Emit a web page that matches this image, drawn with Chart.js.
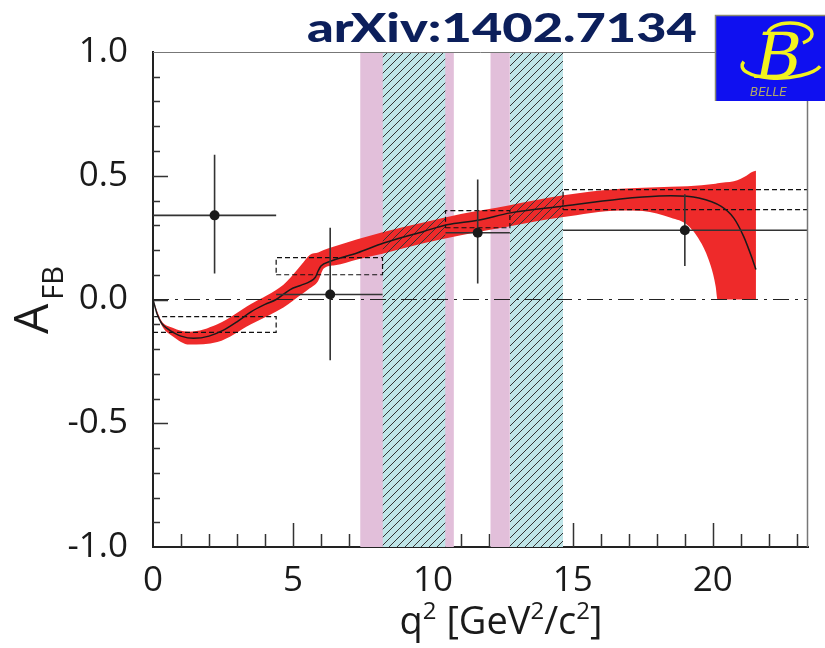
<!DOCTYPE html>
<html><head><meta charset="utf-8">
<script src="https://cdn.jsdelivr.net/npm/chart.js@4.4.1/dist/chart.umd.min.js"></script>
<style>html,body{margin:0;padding:0;background:#fff}#wrap{width:825px;height:648px;position:relative}</style>
</head><body><div id="wrap"><canvas id="c" width="825" height="648"></canvas></div>
<script>
// ---------- data ----------
const xTicks = [0, 5, 10, 15, 20];
const yTicks = [-1, -0.5, 0, 0.5, 1];
const yTickLabels = ['-1.0', '-0.5', '0.0', '0.5', '1.0'];
const xRange = [0, 23.4];
const yRange = [-1, 1];

// veto regions (q^2)
const vetoPink = [[7.4, 10.75], [12.05, 12.75]];
const vetoHatch = [[8.2, 10.45], [12.75, 14.65]];

// measured bins
const binLo = [0, 4.4, 10.45, 14.65];
const binHi = [4.4, 8.2, 12.75, 23.4];
const binCenter = [2.2, 6.33, 11.6, 19.0];
const afbMeas = [0.34, 0.02, 0.27, 0.28];
const errUp = [0.245, 0.27, 0.215, 0.145];
const errDn = [0.235, 0.265, 0.205, 0.145];

// SM bin predictions (dashed boxes)
const smBinLow = [-0.133, 0.10, 0.29, 0.363];
const smBinHigh = [-0.069, 0.169, 0.359, 0.444];

// SM central curve
const curveQ2 = [0, 0.15, 0.3, 0.5, 0.75, 1.0, 1.45, 2.0, 2.5, 3.0, 3.5, 4.0, 4.4, 4.9, 5.3, 5.6, 5.8, 5.9, 6.0, 6.33, 7.29, 8.24, 9.67, 10.5, 11.6, 12.77, 14.56, 16.7, 17.5, 18.5, 19.5, 20.3, 20.75, 21.1, 21.42, 21.54];
const curveAfb = [0, -0.06, -0.095, -0.117, -0.135, -0.148, -0.157, -0.148, -0.125, -0.09, -0.05, -0.02, 0.0, 0.04, 0.058, 0.072, 0.09, 0.115, 0.135, 0.154, 0.188, 0.228, 0.275, 0.302, 0.32, 0.35, 0.376, 0.406, 0.414, 0.419, 0.41, 0.376, 0.329, 0.255, 0.161, 0.121];

// SM uncertainty band
const bandQ2 = [0, 0.3, 0.7, 1.3, 2.3, 3.5, 4.66, 5.0, 5.3, 5.6, 5.9, 6.1, 6.5, 7.3, 8.2, 9.7, 11.0, 12.7, 14.6, 16.7, 17.5, 18.5, 19.1, 19.6, 19.93, 20.1, 20.17, 20.75, 21.0, 21.2, 21.4, 21.54];
const bandLow = [0, -0.102, -0.148, -0.182, -0.172, -0.100, -0.032, -0.005, 0.02, 0.045, 0.075, 0.125, 0.138, 0.162, 0.185, 0.228, 0.26, 0.295, 0.332, 0.36, 0.358, 0.33, 0.30, 0.225, 0.134, 0.054, 0, 0, 0, 0, 0, 0];
const bandHigh = [0, -0.086, -0.114, -0.130, -0.100, -0.018, 0.06, 0.10, 0.14, 0.18, 0.19, 0.20, 0.215, 0.243, 0.272, 0.312, 0.345, 0.38, 0.42, 0.447, 0.452, 0.456, 0.458, 0.462, 0.466, 0.468, 0.47, 0.478, 0.488, 0.50, 0.515, 0.52];

// ---------- helpers ----------
const FONT = '"Open Sans", "Liberation Sans", sans-serif';
const pts = (xs, ys) => xs.map((x, i) => ({x, y: ys[i]}));
const topEdge = (a, b) => [{x: a, y: yRange[1]}, {x: b, y: yRange[1]}];

function hatchPattern() {
  const c = document.createElement('canvas'); c.width = 8; c.height = 8;
  const g = c.getContext('2d');
  g.strokeStyle = '#333'; g.lineWidth = 1;
  g.beginPath();
  g.moveTo(0, 8); g.lineTo(8, 0);
  g.moveTo(-4, 4); g.lineTo(4, -4);
  g.moveTo(4, 12); g.lineTo(12, 4);
  g.stroke();
  return g.createPattern(c, 'repeat');
}

const errPts = [];
binCenter.forEach((c, i) => {
  errPts.push({x: binLo[i], y: afbMeas[i]}, {x: binHi[i], y: afbMeas[i]}, {x: binHi[i], y: null});
  errPts.push({x: c, y: afbMeas[i] - errDn[i]}, {x: c, y: afbMeas[i] + errUp[i]}, {x: c, y: null});
});
const boxPts = [];
binLo.forEach((lo, i) => {
  const hi = binHi[i];
  boxPts.push({x: lo, y: smBinLow[i]}, {x: hi, y: smBinLow[i]}, {x: hi, y: smBinHigh[i]},
              {x: lo, y: smBinHigh[i]}, {x: lo, y: smBinLow[i]}, {x: lo, y: null});
});

const base = {pointRadius: 0, borderWidth: 0, tension: 0, fill: false, showLine: true};
const datasets = [];
vetoPink.forEach(([a, b]) => datasets.push({...base, data: topEdge(a, b), fill: 'start',
  backgroundColor: '#e2bfda', borderColor: 'rgba(0,0,0,0)', order: 100}));
vetoHatch.forEach(([a, b]) => datasets.push({...base, data: topEdge(a, b), fill: 'start',
  backgroundColor: '#bfe5e8', borderColor: 'rgba(0,0,0,0)', order: 95}));
datasets.push({...base, data: pts(bandQ2, bandLow), borderColor: 'rgba(0,0,0,0)',
  cubicInterpolationMode: 'monotone', tension: 0.4, order: 90});
datasets.push({...base, data: pts(bandQ2, bandHigh), borderColor: 'rgba(0,0,0,0)', fill: '-1',
  backgroundColor: '#ee2a2a', cubicInterpolationMode: 'monotone', tension: 0.4, order: 89});
const hp = hatchPattern();
vetoHatch.forEach(([a, b]) => datasets.push({...base, data: topEdge(a, b), fill: 'start',
  backgroundColor: hp, borderColor: 'rgba(0,0,0,0)', order: 80}));
datasets.push({...base, data: [{x: xRange[0], y: 0}, {x: xRange[1], y: 0}], borderColor: '#222',
  borderWidth: 1.2, borderDash: [16, 6, 3, 6], order: 70});
datasets.push({...base, data: boxPts, borderColor: '#111', borderWidth: 1.2, borderDash: [5, 3],
  spanGaps: false, order: 60});
datasets.push({...base, data: pts(curveQ2, curveAfb), borderColor: '#1a1a1a', borderWidth: 1.5,
  cubicInterpolationMode: 'monotone', tension: 0.4, order: 50});
datasets.push({...base, data: errPts, borderColor: '#333', borderWidth: 1.6, spanGaps: false, order: 40});
datasets.push({...base, showLine: false, data: pts(binCenter, afbMeas), pointRadius: 5,
  pointBackgroundColor: '#1a1a1a', pointBorderColor: '#1a1a1a', pointBorderWidth: 0, order: 30});

const extras = {
  id: 'extras',
  beforeDatasetsDraw(chart) {
    const {ctx, chartArea: ca, scales: {x, y}} = chart;
    ctx.save();
    ctx.strokeStyle = '#333'; ctx.lineWidth = 1.5;
    ctx.beginPath();
    for (let v = 1; v <= 23; v++) {
      const px = Math.round(x.getPixelForValue(v)) + 0.5;
      const len = (v % 5 === 0) ? 24 : 13;
      ctx.moveTo(px, ca.bottom); ctx.lineTo(px, ca.bottom - len);
    }
    for (let k = -9; k <= 9; k++) {
      const v = k / 10;
      const py = Math.round(y.getPixelForValue(v)) + 0.5;
      const len = (k % 5 === 0) ? 15 : 7;
      ctx.moveTo(ca.left, py); ctx.lineTo(ca.left + len, py);
    }
    ctx.stroke();
    ctx.restore();
  },
  afterDraw(chart) {
    const {ctx, chartArea: ca} = chart;
    ctx.save();
    // frame top / right
    ctx.strokeStyle = '#777'; ctx.lineWidth = 1;
    ctx.beginPath();
    ctx.moveTo(ca.left, ca.top + 0.5); ctx.lineTo(ca.right, ca.top + 0.5);
    ctx.stroke();
    ctx.lineWidth = 1.5;
    ctx.beginPath();
    ctx.moveTo(ca.right - 0.5, ca.top); ctx.lineTo(ca.right - 0.5, ca.bottom);
    ctx.stroke();

    // title
    ctx.fillStyle = '#0c1f5b';
    ctx.font = '900 39px Lato, "Open Sans", sans-serif';
    ctx.textBaseline = 'alphabetic'; ctx.textAlign = 'left';
    const t = 'arXiv:1402.7134';
    const w = ctx.measureText(t).width;
    ctx.save(); ctx.translate(307, 42); ctx.scale(390 / w, 1); ctx.fillText(t, 0, 0); ctx.restore();

    // logo
    ctx.fillStyle = '#0f10f0'; ctx.fillRect(715, 15, 110, 86);
    ctx.strokeStyle = '#8a8a70'; ctx.lineWidth = 1.5;
    ctx.beginPath(); ctx.moveTo(715.5, 101); ctx.lineTo(715.5, 15.5); ctx.lineTo(825, 15.5); ctx.stroke();
    ctx.strokeStyle = '#f2f21e'; ctx.lineWidth = 3.5;
    ctx.beginPath(); ctx.ellipse(782, 64, 40, 14, -0.05, Math.PI * 0.1, Math.PI * 1.1); ctx.stroke();
    ctx.beginPath(); ctx.ellipse(790, 34, 22, 11, 0, Math.PI * 1.0, Math.PI * 2.3); ctx.stroke();
    ctx.fillStyle = '#f2f21e';
    ctx.font = 'italic 64px "DejaVu Serif", serif';
    ctx.fillText('B', 755, 78);
    ctx.fillStyle = '#b0a868';
    ctx.font = 'italic 12px "DejaVu Sans", sans-serif';
    ctx.fillText('BELLE', 750, 96);

    // x title
    ctx.fillStyle = '#1a1a1a';
    const parts = [['q', 0], ['2', 1], [' [GeV', 0], ['2', 1], ['/c', 0], ['2', 1], [']', 0]];
    let totalW = 0;
    parts.forEach(([s, sup]) => { ctx.font = (sup ? '24px ' : '38px ') + FONT; totalW += ctx.measureText(s).width; });
    let cx = 501 - totalW / 2;
    parts.forEach(([s, sup]) => {
      ctx.font = (sup ? '24px ' : '38px ') + FONT;
      ctx.fillText(s, cx, sup ? 619 : 634);
      cx += ctx.measureText(s).width;
    });

    // y title
    ctx.save();
    ctx.translate(48, 334); ctx.rotate(-Math.PI / 2);
    ctx.font = '48px ' + FONT;
    ctx.fillText('A', 0, 0);
    const aw = ctx.measureText('A').width;
    ctx.font = '29px ' + FONT;
    ctx.fillText('FB', aw + 4, 15);
    ctx.restore();
    ctx.restore();
  }
};

new Chart(document.getElementById('c'), {
  type: 'line',
  data: {datasets},
  options: {
    responsive: false, animation: false, devicePixelRatio: 1,
    layout: {padding: {top: 52, right: 17, left: 0, bottom: 0}},
    plugins: {legend: {display: false}, tooltip: {enabled: false}, title: {display: false}},
    scales: {
      x: {
        type: 'linear', min: xRange[0], max: xRange[1],
        afterBuildTicks: s => { s.ticks = xTicks.map(v => ({value: v})); },
        afterFit: s => { s.height = 101; },
        grid: {display: false},
        border: {display: true, color: '#222', width: 2},
        ticks: {font: {family: FONT, size: 35}, color: '#1a1a1a', padding: 5, maxRotation: 0, autoSkip: false,
                callback: v => String(v)}
      },
      y: {
        type: 'linear', min: yRange[0], max: yRange[1],
        afterBuildTicks: s => { s.ticks = yTicks.map(v => ({value: v})); },
        afterFit: s => { s.width = 153; },
        grid: {display: false},
        border: {display: true, color: '#222', width: 2},
        ticks: {font: {family: FONT, size: 35}, color: '#1a1a1a', padding: 17, autoSkip: false,
                callback: v => yTickLabels[yTicks.indexOf(v)]}
      }
    }
  },
  plugins: [extras]
});
</script></body></html>
